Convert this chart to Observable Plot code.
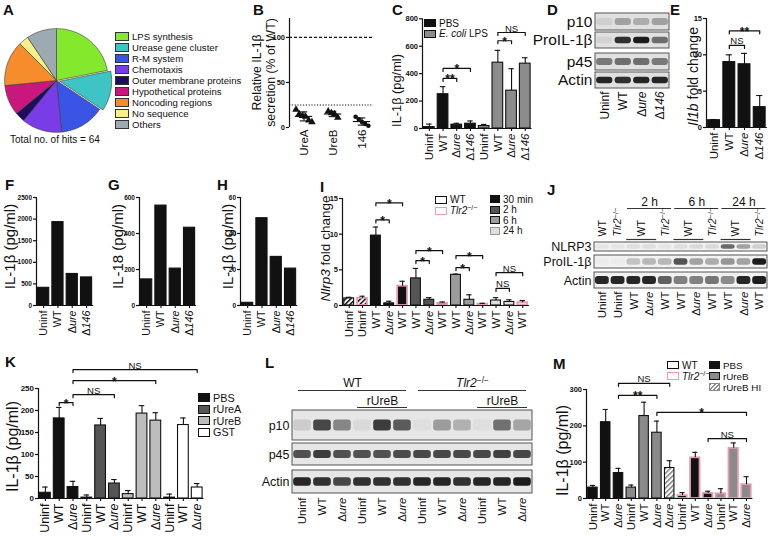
<!DOCTYPE html>
<html><head><meta charset="utf-8">
<script src="https://cdn.jsdelivr.net/npm/d3@7"></script>
<script src="https://cdn.jsdelivr.net/npm/@observablehq/plot@0.6"></script>
<style>
html,body{margin:0;padding:0;background:#fff;}
#fig{position:relative;width:768px;height:536px;overflow:hidden;font-family:"Liberation Sans",Arial,Helvetica,sans-serif;color:#111;background:#fff;}
.letter{position:absolute;font-weight:bold;font-size:15px;line-height:15px;}
.txt{position:absolute;white-space:nowrap;line-height:1;}
.leg{position:absolute;white-space:nowrap;}
.leg .row{display:flex;align-items:center;}
.sw{display:inline-block;box-sizing:border-box;margin-right:3px;}
</style></head><body>
<svg width="0" height="0" style="position:absolute">
<defs>
<pattern id="hatchK" patternUnits="userSpaceOnUse" width="3.5" height="3.5" patternTransform="rotate(45)"><rect width="3.5" height="3.5" fill="#fff"/><rect width="1.5" height="3.5" fill="#111"/></pattern>
<pattern id="hatchG" patternUnits="userSpaceOnUse" width="3.5" height="3.5" patternTransform="rotate(45)"><rect width="3.5" height="3.5" fill="#fff"/><rect width="1.6" height="3.5" fill="#8a8a8a"/></pattern>
</defs></svg>
<div id="fig"></div>
<script>
// ================= DATA =================
// A
const pieLabels = ["LPS synthesis","Urease gene cluster","R-M system","Chemotaxis","Outer membrane proteins","Hypothetical proteins","Noncoding regions","No sequence","Others"];
const pieHits = [14, 8, 9, 8, 2, 6, 9, 2, 6];
const pieTotal = "Total no. of hits = 64";
// B
const bCats = ["UreA","UreB","146"];
const bPoints = [[20, 15, 13, 12, 8, 6], [18, 16, 15, 11], [12, 9, 6, 4, 2]];
const bTicks = [0, 50, 100];
const bRefLines = [100, 25];
// C
const cCats = ["Uninf","WT","Δure","Δ146","Uninf","WT","Δure","Δ146"];
const cTreat = ["PBS","PBS","PBS","PBS","LPS","LPS","LPS","LPS"];
const cVals = [10, 250, 28, 35, 18, 480, 276, 473];
const cErrs = [22, 55, 10, 20, 12, 90, 160, 43];
const cTicks = [0, 200, 400, 600, 800];
const cBrackets = [{a:1,b:2,t:"**",y:365},{a:1,b:3,t:"*",y:438},{a:5,b:6,t:"*",y:640},{a:5,b:7,t:"NS",y:700}];
// D (blot)
const dLanes = ["Uninf","WT","Δure","Δ146"];
const dRows = ["p10","ProIL-1β","p45","Actin"];
const dBands = [[0.08,0.3,0.25,0.3],[0.06,0.85,0.95,0.55],[0.5,0.55,0.55,0.5],[0.9,0.85,0.9,0.9]];
// E
const eCats = ["Uninf","WT","Δure","Δ146"];
const eVals = [1.0, 9.0, 8.7, 2.8];
const eErrs = [0.1, 1.0, 1.5, 1.6];
const eTicks = [0, 5, 10, 15];
const eBrackets = [{a:1,b:2,t:"NS",y:11.3},{a:1,b:3,t:"**",y:13.3}];
// F, G, H
const fghCats = ["Uninf","WT","Δure","Δ146"];
const fVals = [410, 1930, 730, 650];
const gVals = [145, 555, 205, 432];
const hVals = [1.5, 48.5, 27, 20.5];
const fTicks = [0, 500, 1000, 1500, 2000, 2500];
const gTicks = [0, 200, 400, 600];
const hTicks = [0, 20, 40, 60];
// I
const iCats = ["Uninf","Uninf","WT","Δure","WT","WT","Δure","WT","WT","Δure","WT","WT","Δure","WT"];
const iTime = ["Uninf","Uninf","30 min","30 min","30 min","2 h","2 h","2 h","6 h","6 h","6 h","24 h","24 h","24 h"];
const iMouse = ["WT","Tlr2","WT","WT","Tlr2","WT","WT","Tlr2","WT","WT","Tlr2","WT","WT","Tlr2"];
const iVals = [1.0, 1.0, 9.8, 0.3, 2.7, 3.8, 0.8, 0.3, 4.3, 0.8, 0.2, 0.7, 0.5, 0.4];
const iErrs = [0.15, 0.3, 1.2, 0.3, 0.7, 1.4, 0.3, 0.2, 0.1, 0.7, 0.1, 0.4, 0.3, 0.3];
const iTicks = [0, 5, 10, 15];
const iBrackets = [{a:2,b:3,t:"*",y:12.0},{a:2,b:4,t:"*",y:14.4},{a:5,b:6,t:"*",y:6.3},{a:5,b:7,t:"*",y:7.7},{a:8,b:9,t:"*",y:5.3},{a:8,b:10,t:"*",y:7.0},{a:11,b:12,t:"NS",y:2.4},{a:11,b:13,t:"NS",y:4.6}];
// J (blot)
const jLanes = ["Uninf","Uninf","WT","Δure","WT","WT","Δure","WT","WT","Δure","WT"];
const jRows = ["NLRP3","ProIL-1β","Actin"];
const jBands = [[0.05,0.05,0.08,0.08,0.05,0.08,0.1,0.1,0.6,0.35,0.15],[0.02,0.02,0.2,0.25,0.25,0.7,0.35,0.3,0.4,0.35,0.95],[0.9,0.9,0.9,0.9,0.65,0.5,0.5,0.55,0.45,0.9,0.95]];
const jTime = [{label:"2 h",from:2,to:4},{label:"6 h",from:5,to:7},{label:"24 h",from:8,to:10}];
const jMouse = [{label:"WT",from:0,to:0},{label:"Tlr2−/−",from:1,to:1},{label:"WT",from:2,to:3},{label:"Tlr2−/−",from:4,to:4},{label:"WT",from:5,to:6},{label:"Tlr2−/−",from:7,to:7},{label:"WT",from:8,to:9},{label:"Tlr2−/−",from:10,to:10}];
// K
const kCats = ["Uninf","WT","Δure","Uninf","WT","Δure","Uninf","WT","Δure","Uninf","WT","Δure"];
const kTreat = ["PBS","PBS","PBS","rUreA","rUreA","rUreA","rUreB","rUreB","rUreB","GST","GST","GST"];
const kVals = [13, 182, 26, 2, 166, 34, 10, 193, 177, 2, 167, 25];
const kErrs = [13, 25, 13, 6, 16, 9, 8, 18, 18, 8, 16, 9];
const kTicks = [0, 50, 100, 150, 200, 250];
const kBrackets = [{a:1,b:2,t:"*",y:218},{a:2,b:5,t:"NS",y:236},{a:2,b:8,t:"*",y:268},{a:2,b:11,t:"NS",y:293}];
// L (blot)
const lLanes = ["Uninf","WT","Δure","Uninf","WT","Δure","Uninf","WT","Δure","Uninf","WT","Δure"];
const lRows = ["p10","p45","Actin"];
const lBands = [[0.12,0.75,0.45,0.06,0.8,0.65,0.04,0.35,0.25,0.04,0.55,0.3],[0.7,0.8,0.7,0.7,0.7,0.72,0.75,0.75,0.75,0.75,0.78,0.75],[0.9,0.85,0.75,0.85,0.85,0.85,0.9,0.9,0.85,0.9,0.9,0.95]];
const lHeaders = [{label:"WT",from:0,to:5,level:0},{label:"Tlr2−/−",from:6,to:11,level:0},{label:"rUreB",from:3,to:5,level:1},{label:"rUreB",from:9,to:11,level:1}];
// M
const mCats = ["Uninf","WT","Δure","Uninf","WT","Δure","Δure","Uninf","WT","Δure","Uninf","WT","Δure"];
const mTreat = ["PBS","PBS","PBS","rUreB","rUreB","rUreB","rUreB HI","PBS","PBS","PBS","rUreB","rUreB","rUreB"];
const mMouse = ["WT","WT","WT","WT","WT","WT","WT","Tlr2","Tlr2","Tlr2","Tlr2","Tlr2","Tlr2"];
const mVals = [30, 210, 70, 30, 227, 181, 84, 8, 112, 14, 13, 138, 38];
const mErrs = [6, 35, 13, 7, 38, 32, 20, 8, 15, 6, 14, 15, 22];
const mTicks = [0, 100, 200, 300];
const mBrackets = [{a:2,b:5,t:"**",y:284},{a:2,b:6,t:"NS",y:317},{a:5,b:12,t:"*",y:237},{a:9,b:12,t:"NS",y:165}];

// ================= STYLES =================
const FONT = '"Liberation Sans", Arial, Helvetica, sans-serif';
const PINK = "#e99bb6";
const pieColors = ["#84e82c","#3ec4c4","#3a55e6","#7a3ce6","#1c0e5c","#c8187e","#f68c2c","#f6f08a","#9eaab2"];
const cFill = {PBS:"#111", LPS:"#8c8c8c"};
const timeFill = {"Uninf":"url(#hatchK)","30 min":"#111","2 h":"#555","6 h":"#9c9c9c","24 h":"#dedede"};
const mouseStroke = {WT:"#111", Tlr2:PINK};
const kFill = {PBS:"#111", rUreA:"#555", rUreB:"#bdbdbd", GST:"#fff"};
const mFill = {PBS:"#111", rUreB:"#8a8a8a", "rUreB HI":"url(#hatchG)"};

const RICH = {
  "Δure": [["Δ"],["ure","i"]],
  "Δ146": [["Δ"],["146","i"]],
  "Tlr2−/−": [["Tlr2","i"],["−/−","sup"]],
  "Il1b fold change": [["Il1b","i"],[" fold change"]],
  "Nlrp3 fold change": [["Nlrp3","i"],[" fold change"]]
};
function richify(root){
  root.querySelectorAll("text").forEach(t=>{
    const ts = t.querySelectorAll("tspan");
    const targets = ts.length ? Array.from(ts) : [t];
    for (const el of targets){
      const parts = RICH[el.textContent];
      if (!parts) continue;
      el.textContent = "";
      for (const [s, st] of parts){
        const sp = document.createElementNS("http://www.w3.org/2000/svg","tspan");
        sp.textContent = s;
        if (st === "i") sp.setAttribute("font-style","italic");
        if (st === "sup"){ sp.setAttribute("font-size","0.7em"); sp.setAttribute("dy","-0.45em"); }
        el.appendChild(sp);
      }
    }
  });
}
const fig = document.getElementById("fig");
function put(el, left, top){
  el.style.position = "absolute"; el.style.left = left + "px"; el.style.top = top + "px";
  fig.appendChild(el); richify(el); return el;
}
const baseStyle = {background:"transparent", fontFamily:FONT, color:"#111", overflow:"visible"};

// ================= BAR PANEL =================
function bars(o){
  const n = o.cats.length;
  const width = o.right - o.left, height = o.bottom - o.top;
  const mL = o.x0 - o.left, mT = o.yTop - o.top, mB = o.bottom - o.y0;
  const xEnd = mL + n * o.sp;
  const pxPerUnit = (o.y0 - o.yTop) / o.yMax;
  const data = o.cats.map((c,i)=>({i, c, v:o.vals ? o.vals[i] : 0, e:o.errs ? o.errs[i] : 0,
    f:o.fills ? o.fills[i] : "#111", s:o.strokes ? o.strokes[i] : "#111"}));
  const hw = o.hw ?? 0.39, cw = o.cw ?? 0.2;
  const drop = 3 / pxPerUnit;
  const marks = [];
  if (o.vals){
    marks.push(Plot.rect(data, {x1:d=>d.i-hw, x2:d=>d.i+hw, y1:0, y2:"v", fill:"f", stroke:"s",
      strokeWidth:d=>d.s === PINK ? 1.8 : 1.1}));
    const eb = data.filter(d=>d.e > 0);
    marks.push(Plot.ruleX(eb, {x:"i", y1:"v", y2:d=>d.v+d.e, stroke:"#111", strokeWidth:1.1}));
    marks.push(Plot.ruleY(eb, {y:d=>d.v+d.e, x1:d=>d.i-cw, x2:d=>d.i+cw, stroke:"#111", strokeWidth:1.1}));
  }
  if (o.extra) marks.push(...o.extra);
  marks.push(Plot.ruleX([-0.5], {y1:0, y2:o.yMax, stroke:"#111", strokeWidth:1.2}));
  if (!o.noXLine) marks.push(Plot.ruleY([0], {x1:-0.5, x2:n-0.5, stroke:"#111", strokeWidth:1.2}));
  marks.push(Plot.axisY({ticks:o.ticks, tickFormat:d3.format("d"), tickSize:3, tickPadding:1.5,
    fontSize:o.tickFont ?? 7.5, fontWeight:"bold", label:null, strokeWidth:1.2}));
  marks.push(Plot.axisX({ticks:d3.range(n), tickFormat:i=>o.cats[i], tickRotate:-90,
    tickSize:o.noXLine ? 0 : 3, tickPadding:2, fontSize:o.catFont ?? 11.5, label:null, strokeWidth:1.1}));
  const br = o.brackets ?? [];
  const bpts = [];
  br.forEach((b,k)=>{ bpts.push({k,x:b.a,y:b.y-drop},{k,x:b.a,y:b.y},{k,x:b.b,y:b.y},{k,x:b.b,y:b.y-drop}); });
  if (bpts.length) marks.push(Plot.line(bpts, {x:"x", y:"y", z:"k", stroke:"#111", strokeWidth:1.2}));
  marks.push(Plot.text(br.filter(b=>b.t.includes("*")), {x:b=>(b.a+b.b)/2, y:"y", text:"t", lineAnchor:"bottom", dy:5, fontSize:o.starFont ?? 12, fontWeight:"bold"}));
  marks.push(Plot.text(br.filter(b=>!b.t.includes("*")), {x:b=>(b.a+b.b)/2, y:"y", text:"t", lineAnchor:"bottom", dy:-1, fontSize:o.nsFont ?? 9.5}));
  const frameMid = mT + (height - mB - mT) / 2;
  marks.push(Plot.text([o.ylabel], {frameAnchor:"left", textAnchor:"middle", lineAnchor:"middle", rotate:-90, dx:o.ylX - o.x0, dy:(o.ylY - o.top) - frameMid, fontSize:o.ylFont ?? 12, lineHeight:1.15}));
  const svg = Plot.plot({width, height, marginLeft:mL, marginRight:width - xEnd, marginTop:mT, marginBottom:mB,
    x:{domain:[-0.5, n-0.5]}, y:{domain:[0, o.yMax]}, color:{type:"identity"}, style:baseStyle, marks});
  return put(svg, o.left, o.top);
}

// ================= BLOT PANEL =================
function blot(o){
  const n = o.lanes.length;
  const width = o.right - o.left, height = o.bottom - o.top;
  const Y = v => v - o.top;
  const rows = o.rows.map((r,k)=>({label:r, k, y1:o.rowY[k][0], y2:o.rowY[k][1]}));
  const bands = [];
  o.bands.forEach((arr,k)=>arr.forEach((v,i)=>bands.push({i,k,v})));
  const bh = k => (rows[k].y2 - rows[k].y1) * (o.bandFrac ?? 0.42);
  const mid = k => (rows[k].y1 + rows[k].y2) / 2;
  const marks = [
    Plot.rect(rows, {x1:-0.5, x2:n-0.5, y1:r=>Y(r.y1), y2:r=>Y(r.y2), fill:o.bg ?? "#e4e4e4", stroke:"#555", strokeWidth:1}),
    Plot.rect(bands, {x1:d=>d.i-0.44, x2:d=>d.i+0.44, y1:d=>Y(mid(d.k)-bh(d.k)/2), y2:d=>Y(mid(d.k)+bh(d.k)/2),
      fill:"#111", fillOpacity:d=>d.v, rx:3, ariaLabel:"bands"}),
    Plot.text(rows, {x:-0.5, y:r=>Y((r.y1+r.y2)/2), text:"label", textAnchor:"end", dx:-3, fontSize:o.rowFont ?? 12.5}),
    Plot.text(o.lanes.map((l,i)=>({l,i})), {x:"i", y:Y(o.laneY), text:"l", rotate:-90, textAnchor:"end", fontSize:o.laneFont ?? 11.5})
  ];
  for (const h of (o.headers ?? [])){
    marks.push(Plot.text(h.data, {x:d=>(d.from+d.to)/2, y:Y(h.textY), text:"label", lineAnchor:"bottom", fontSize:h.font}));
    marks.push(Plot.ruleY(h.data, {x1:d=>d.from-0.5+h.inset, x2:d=>d.to+0.5-h.inset, y:Y(h.lineY), stroke:"#333", strokeWidth:1.2}));
  }
  if (o.topLabels){
    const t = o.topLabels;
    marks.push(Plot.text(t.data, {x:d=>(d.from+d.to)/2, y:Y(t.y), text:"label", rotate:-90, textAnchor:"start", fontSize:t.font}));
    marks.push(Plot.ruleY(t.data.filter(d=>d.to > d.from), {x1:d=>d.from-0.45, x2:d=>d.to+0.45, y:Y(t.lineY), stroke:"#333", strokeWidth:1.2}));
  }
  const svg = Plot.plot({width, height, margin:0,
    x:{domain:[-0.5, n-0.5], range:[o.boxL - o.left, o.boxR - o.left], axis:null},
    y:{domain:[0, height], range:[0, height], axis:null}, style:baseStyle, marks});
  const g = svg.querySelector('g[aria-label="bands"]');
  if (g) g.style.filter = "blur(1.1px)";
  return put(svg, o.left, o.top);
}

// ================= HTML helpers =================
function letter(ch, left, baseline){
  const d = document.createElement("div"); d.className = "letter"; d.textContent = ch;
  d.style.left = left + "px"; d.style.top = (baseline - 12.7) + "px"; fig.appendChild(d);
}
function legend(left, firstCenter, items, o){
  const rowH = o.rowH ?? 11;
  const d = document.createElement("div"); d.className = "leg";
  d.style.left = left + "px"; d.style.top = (firstCenter - rowH/2) + "px"; d.style.fontSize = (o.font ?? 10) + "px";
  for (const it of items){
    const r = document.createElement("div"); r.className = "row"; r.style.height = rowH + "px";
    const s = document.createElement("span"); s.className = "sw";
    s.style.width = (o.sw ?? 12) + "px"; s.style.height = (o.sh ?? 8) + "px";
    s.style.border = (it.bw ?? 1.3) + "px solid " + (it.stroke ?? "#111");
    s.style.background = it.fill;
    const tx = document.createElement("span"); tx.innerHTML = it.label;
    r.appendChild(s); r.appendChild(tx); d.appendChild(r);
  }
  fig.appendChild(d);
}

// ================= PANEL A =================
{
  const arcs = d3.pie().sort(null)(pieHits);
  const marks = arcs.map((a,k)=>{
    const off = k === 1 ? 0.065 : 0;
    const m = (a.startAngle + a.endAngle) / 2;
    const cx = off * Math.sin(m), cy = off * Math.cos(m);
    const pts = [{x:cx, y:cy}];
    const steps = Math.max(8, Math.ceil((a.endAngle - a.startAngle) * 30));
    for (let t = 0; t <= steps; t++){
      const ang = a.startAngle + (a.endAngle - a.startAngle) * t / steps;
      pts.push({x:cx + Math.sin(ang), y:cy + Math.cos(ang)});
    }
    pts.push({x:cx, y:cy});
    return Plot.line(pts, {x:"x", y:"y", fill:pieColors[k], stroke:"#3a3a3a", strokeWidth:0.6});
  });
  const svg = Plot.plot({width:112, height:112, margin:0, x:{domain:[-1.08,1.08], axis:null}, y:{domain:[-1.08,1.08], axis:null}, style:baseStyle, marks});
  put(svg, 0, 24);
  legend(115, 36, pieLabels.map((l,k)=>({label:l, fill:pieColors[k], stroke:"#333", bw:1})), {font:9.6, rowH:11, sw:14, sh:9});
  const t = document.createElement("div"); t.className = "txt"; t.style.left = "10px"; t.style.top = "134.5px"; t.style.fontSize = "10px"; t.textContent = pieTotal; fig.appendChild(t);
}

// ================= PANEL B =================
{
  const pts = [];
  bPoints.forEach((arr,i)=>arr.forEach((v,j)=>pts.push({i, v, x:i + (j - (arr.length-1)/2) * 0.11})));
  const stats = bPoints.map((arr,i)=>({i, m:d3.mean(arr), s:d3.deviation(arr)}));
  const extra = [
    Plot.ruleY([bRefLines[0]], {x1:-0.5, x2:2.4, stroke:"#111", strokeWidth:1.1, strokeDasharray:"3,2"}),
    Plot.ruleY([bRefLines[1]], {x1:-0.5, x2:2.4, stroke:"#111", strokeWidth:1.1, strokeDasharray:"1.2,1.6"}),
    Plot.dot(pts.filter(d=>d.i===0), {x:"x", y:"v", symbol:"triangle", r:2.8, fill:"#111"}),
    Plot.dot(pts.filter(d=>d.i===1), {x:"x", y:"v", symbol:"triangle", r:2.8, fill:"#111"}),
    Plot.dot(pts.filter(d=>d.i===2), {x:"x", y:"v", symbol:"circle", r:2.3, fill:"#111"}),
    Plot.ruleY(stats, {y:"m", x1:d=>d.i-0.3, x2:d=>d.i+0.3, stroke:"#111", strokeWidth:1.1}),
    Plot.ruleX(stats, {x:"i", y1:d=>Math.max(0, d.m-d.s), y2:d=>d.m+d.s, stroke:"#111", strokeWidth:1.1}),
    Plot.ruleY(stats, {y:d=>d.m+d.s, x1:d=>d.i-0.13, x2:d=>d.i+0.13, stroke:"#111", strokeWidth:1.1}),
    Plot.ruleY(stats, {y:d=>Math.max(0, d.m-d.s), x1:d=>d.i-0.13, x2:d=>d.i+0.13, stroke:"#111", strokeWidth:1.1})
  ];
  bars({cats:bCats, left:240, right:385, top:5, bottom:175, x0:289, sp:29, y0:127, yTop:18, yMax:121,
    ticks:bTicks, extra, noXLine:true, ylabel:"Relative IL-1β\nsecretion (% of WT)", ylX:263, ylY:72, ylFont:12.3, tickFont:7.5});
}

// ================= PANEL C =================
bars({cats:cCats, vals:cVals, errs:cErrs, fills:cTreat.map(t=>cFill[t]), left:380, right:535, top:5, bottom:175,
  x0:422, sp:13.7, y0:128, yTop:18.3, yMax:800, ticks:cTicks, brackets:cBrackets, ylabel:"IL-1β (pg/ml)", ylX:396, ylY:90, ylFont:12.8});
legend(424, 23, [{label:"PBS", fill:cFill.PBS}, {label:"<i>E. coli</i> LPS", fill:cFill.LPS}], {font:10, rowH:10.5});

// ================= PANEL D =================
blot({lanes:dLanes, rows:dRows, bands:dBands, left:535, right:672, top:5, bottom:175, boxL:595, boxR:669,
  rowY:[[13,30],[32,48],[53,70],[72,88]], laneY:91, rowFont:15.5, laneFont:12, bg:"#e0e0e0", bandFrac:0.42});

// ================= PANEL E =================
bars({cats:eCats, vals:eVals, errs:eErrs, fills:eCats.map(()=>"#111"), left:665, right:768, top:5, bottom:175,
  x0:706, sp:15.2, y0:127, yTop:18, yMax:15, ticks:eTicks, brackets:eBrackets, ylabel:"Il1b fold change", ylX:692, ylY:76, ylFont:14});

// ================= PANELS F G H =================
bars({cats:fghCats, vals:fVals, fills:fghCats.map(()=>"#111"), left:0, right:100, top:185, bottom:355,
  x0:36, sp:14.3, y0:305, yTop:197, yMax:2500, ticks:fTicks, ylabel:"IL-1β (pg/ml)", ylX:9, ylY:246, ylFont:15, tickFont:6.5, catFont:10.8});
bars({cats:fghCats, vals:gVals, fills:fghCats.map(()=>"#111"), left:100, right:205, top:185, bottom:355,
  x0:139, sp:14.3, y0:305, yTop:197, yMax:600, ticks:gTicks, ylabel:"IL-18 (pg/ml)", ylX:117, ylY:246, ylFont:15, tickFont:6.5, catFont:10.8});
bars({cats:fghCats, vals:hVals, fills:fghCats.map(()=>"#111"), left:205, right:310, top:185, bottom:355,
  x0:240, sp:14.3, y0:305, yTop:197, yMax:60, ticks:hTicks, ylabel:"IL-1β (pg/ml)", ylX:227, ylY:246, ylFont:15, tickFont:6.5, catFont:10.8});

// ================= PANEL I =================
bars({cats:iCats, vals:iVals, errs:iErrs, fills:iTime.map(t=>timeFill[t]), strokes:iMouse.map(m=>mouseStroke[m]),
  left:310, right:535, top:185, bottom:355, x0:342, sp:13.35, y0:305, yTop:198, yMax:15, ticks:iTicks, brackets:iBrackets,
  ylabel:"Nlrp3 fold change", ylX:325, ylY:248, ylFont:13.5, hw:0.37});
legend(435, 199.5, [{label:"WT", fill:"#fff"}, {label:"<i>Tlr2</i><sup style='font-size:0.7em'>−/−</sup>", fill:"#fff", stroke:PINK}], {font:10, rowH:11});
legend(490, 199, [{label:"30 min", fill:timeFill["30 min"]}, {label:"2 h", fill:timeFill["2 h"]}, {label:"6 h", fill:timeFill["6 h"]}, {label:"24 h", fill:timeFill["24 h"], stroke:"#999"}], {font:10, rowH:10.5, sw:10, sh:8});

// ================= PANEL J =================
blot({lanes:jLanes, rows:jRows, bands:jBands, left:540, right:768, top:185, bottom:355, boxL:594, boxR:767,
  rowY:[[242,251],[255,268],[272,288]], laneY:291, rowFont:12.5, laneFont:11.5, bg:"#f1f1f1", bandFrac:0.5,
  headers:[{data:jTime, textY:205, lineY:208, font:12, inset:0.1}],
  topLabels:{data:jMouse, y:236, lineY:239, font:10.5}});

// ================= PANEL K =================
bars({cats:kCats, vals:kVals, errs:kErrs, fills:kTreat.map(t=>kFill[t]), left:0, right:260, top:355, bottom:536,
  x0:38, sp:13.8, y0:498, yTop:388, yMax:250, ticks:kTicks, brackets:kBrackets, ylabel:"IL-1β (pg/ml)", ylX:12, ylY:446, ylFont:16, tickFont:8, catFont:12.5});
legend(198, 398, [{label:"PBS", fill:kFill.PBS}, {label:"rUreA", fill:kFill.rUreA}, {label:"rUreB", fill:kFill.rUreB}, {label:"GST", fill:kFill.GST}], {font:10.8, rowH:11.4, sw:12, sh:9});

// ================= PANEL L =================
blot({lanes:lLanes, rows:lRows, bands:lBands, left:262, right:545, top:365, bottom:536, boxL:292, boxR:532,
  rowY:[[410,440],[443,465],[470,493]], laneY:497, rowFont:12.5, laneFont:11.5, bg:"#e6e6e6", bandFrac:0.36,
  headers:[{data:lHeaders.filter(h=>h.level===0), textY:386, lineY:390, font:12, inset:0.3},
           {data:lHeaders.filter(h=>h.level===1), textY:404, lineY:407, font:12, inset:0.25}]});

// ================= PANEL M =================
bars({cats:mCats, vals:mVals, errs:mErrs, fills:mTreat.map(t=>mFill[t]), strokes:mMouse.map(m=>mouseStroke[m]),
  left:545, right:768, top:355, bottom:536, x0:586, sp:12.8, y0:498, yTop:389, yMax:300, ticks:mTicks, brackets:mBrackets,
  ylabel:"IL-1β (pg/ml)", ylX:562, ylY:450, ylFont:16, tickFont:7.5, catFont:11.5, hw:0.37});
legend(667, 365, [{label:"WT", fill:"#fff"}, {label:"<i>Tlr2</i><sup style='font-size:0.7em'>−/−</sup>", fill:"#fff", stroke:PINK}], {font:10, rowH:11});
legend(709, 365, [{label:"PBS", fill:mFill.PBS}, {label:"rUreB", fill:mFill.rUreB}, {label:"rUreB HI", fill:"repeating-linear-gradient(135deg,#8a8a8a 0 1.4px,#fff 1.4px 3px)", stroke:"#8a8a8a"}], {font:9.8, rowH:11, sw:11});

// ================= PANEL LETTERS =================
[["A",3,15],["B",253,15],["C",392,15],["D",547,15],["E",670,15],["F",5,190],["G",108,190],["H",217,190],["I",320,192],["J",547,195],["K",5,367],["L",265,368],["M",553,369]]
  .forEach(([c,x,b])=>letter(c,x,b));
</script>
</body></html>
